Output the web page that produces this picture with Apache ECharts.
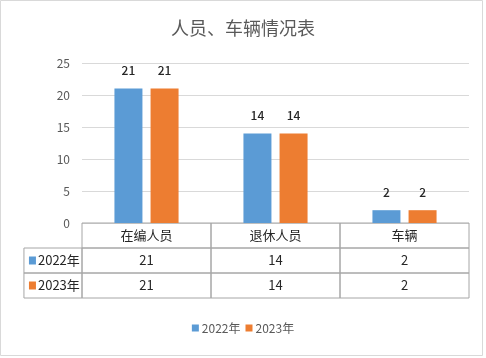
<!DOCTYPE html>
<html><head><meta charset="utf-8">
<script src="https://cdn.jsdelivr.net/npm/echarts@6/dist/echarts.min.js"></script>
<style>html,body{margin:0;padding:0;background:#fff;}#c{width:486px;height:358px;}</style>
</head><body><div id="c"></div>
<script>
const titleText = '人员、车辆情况表';
const categories = ['在编人员', '退休人员', '车辆'];
const seriesNames = ['2022年', '2023年'];
const values2022 = [21, 14, 2];
const values2023 = [21, 14, 2];
const yMin = 0, yMax = 25, yStep = 5;
const colors = ['#5B9BD5', '#ED7D31'];
const seriesValues = [values2022, values2023];

const FONT = '"Noto Sans CJK SC", "Microsoft YaHei", sans-serif';
const KEY_MIN = -0.45;

// table cells: header row, then one row per series
const cells = [];
categories.forEach((c, i) => cells.push({ col: i, row: 0, text: c }));
seriesNames.forEach((s, si) => {
  cells.push({ col: -1, row: si + 1, text: s, key: si });
  seriesValues[si].forEach((v, i) => cells.push({ col: i, row: si + 1, text: String(v) }));
});

const chart = echarts.init(document.getElementById('c'), null, { renderer: 'canvas' });
chart.setOption({
  animation: false,
  backgroundColor: '#fff',
  color: colors,
  title: {
    text: titleText, left: 'center', top: 14,
    textStyle: { color: '#595959', fontSize: 18, fontWeight: 'normal', fontFamily: FONT }
  },
  legend: {
    data: seriesNames, bottom: 19, left: 'center', icon: 'rect',
    itemWidth: 7, itemHeight: 7, itemGap: 5,
    textStyle: { color: '#595959', fontSize: 12, fontFamily: FONT, padding: [0, 0, 0, -2] }
  },
  graphic: [{
    type: 'rect', silent: true, z: -10,
    shape: { x: 0.5, y: 0.5, width: 482, height: 355 },
    style: { fill: 'none', stroke: '#D9D9D9', lineWidth: 1 }
  }],
  grid: [
    { left: 82, width: 387, top: 63, height: 160 },
    { left: 82 + KEY_MIN * 129, width: 387 - KEY_MIN * 129, top: 223, height: 75 }
  ],
  xAxis: [
    { type: 'category', gridIndex: 0, data: categories, boundaryGap: true,
      axisLine: { show: false }, axisTick: { show: false }, axisLabel: { show: false } },
    { type: 'value', gridIndex: 1, min: KEY_MIN, max: categories.length, show: false, splitLine: { show: false } }
  ],
  yAxis: [
    { type: 'value', gridIndex: 0, min: yMin, max: yMax, interval: yStep,
      axisLine: { show: false }, axisTick: { show: false },
      axisLabel: { color: '#595959', fontSize: 12, margin: 12, fontFamily: FONT },
      splitLine: { lineStyle: { color: '#D9D9D9', width: 1 } } },
    { type: 'value', gridIndex: 1, min: 0, max: seriesNames.length + 1, inverse: true, show: false, splitLine: { show: false } }
  ],
  series: [
    ...seriesNames.map((name, si) => ({
      name, type: 'bar', xAxisIndex: 0, yAxisIndex: 0,
      data: seriesValues[si], barWidth: 28, barGap: '29%',
      itemStyle: { color: colors[si] },
      label: { show: true, position: 'top', distance: 12, color: '#262626', fontSize: 12, fontWeight: 500, fontFamily: FONT }
    })),
    {
      type: 'custom', xAxisIndex: 1, yAxisIndex: 1, silent: true,
      data: cells.map(c => [c.col, c.row]),
      encode: { x: 0, y: 1 },
      renderItem: function (params, api) {
        const cell = cells[params.dataIndex];
        const x0 = cell.col === -1 ? KEY_MIN : cell.col;
        const x1 = cell.col === -1 ? 0 : cell.col + 1;
        const p0 = api.coord([x0, cell.row]);
        const p1 = api.coord([x1, cell.row + 1]);
        const w = p1[0] - p0[0], h = p1[1] - p0[1];
        const cy = p0[1] + h / 2;
        const children = [{
          type: 'rect', shape: { x: p0[0], y: p0[1], width: w, height: h },
          style: { fill: 'none', stroke: '#A6A6A6', lineWidth: 1 }
        }];
        if (cell.key !== undefined) {
          children.push({ type: 'rect', shape: { x: p0[0] + 5, y: cy - 4, width: 7, height: 8 },
            style: { fill: colors[cell.key] } });
          children.push({ type: 'text', style: { x: p0[0] + 14, y: cy, text: cell.text,
            textAlign: 'left', textVerticalAlign: 'middle', fill: '#262626', fontSize: 13, fontFamily: FONT } });
        } else {
          children.push({ type: 'text', style: { x: p0[0] + w / 2, y: cy, text: cell.text,
            textAlign: 'center', textVerticalAlign: 'middle', fill: '#262626',
            fontSize: 13, fontFamily: FONT } });
        }
        return { type: 'group', children };
      }
    }
  ]
});
</script></body></html>
